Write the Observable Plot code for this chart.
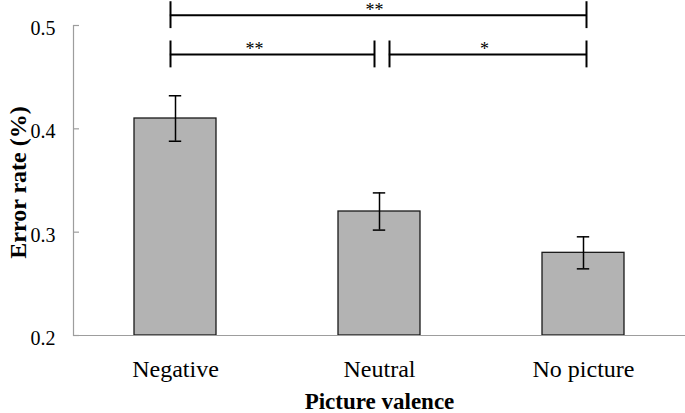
<!DOCTYPE html>
<html><head><meta charset="utf-8">
<script src="https://cdn.jsdelivr.net/npm/d3@7"></script>
<script src="https://cdn.jsdelivr.net/npm/@observablehq/plot@0.6"></script>
<style>html,body{margin:0;padding:0;background:#fff} svg{display:block}</style>
</head><body><div id="chart"></div>
<script>
const categories = ["Negative", "Neutral", "No picture"];
const errorRates = [0.41, 0.32, 0.28];
const errorSE = [0.022, 0.018, 0.0155];
const yTicks = [0.2, 0.3, 0.4, 0.5];
const bracketFrom = ["Negative", "Negative", "Neutral"];
const bracketTo = ["No picture", "Neutral", "No picture"];
const bracketLevel = [0.51, 0.472, 0.472];
const bracketLabels = ["**", "**", "*"];
const yTitle = "Error rate (%)";
const xTitle = "Picture valence";

const rows = categories.map((c, i) => ({
  category: c, rate: errorRates[i],
  lo: errorRates[i] - errorSE[i], hi: errorRates[i] + errorSE[i]
}));

const W = 685, H = 413, mL = 73, mR = 0, mT = 25, mB = 78;
const step = (W - mL - mR) / categories.length;
const bw = step * 0.4;
const capHalf = 0.013;
const axisGrey = "#9d9d9d";
const serif = "'Liberation Serif', 'Times New Roman', Times, serif";

function bracket(i, offFrom, offTo, labelAt, labelDx) {
  const d = [{from: bracketFrom[i], to: bracketTo[i], y: bracketLevel[i], label: bracketLabels[i], at: labelAt}];
  return [
    Plot.ruleY(d, {y: "y", x1: "from", x2: "to", insetLeft: bw / 2 + offFrom, insetRight: bw / 2 - offTo, stroke: "#000", strokeWidth: 2}),
    Plot.ruleX(d, {x: "from", y1: r => r.y - capHalf, y2: r => r.y + capHalf, dx: offFrom, stroke: "#000", strokeWidth: 2}),
    Plot.ruleX(d, {x: "to", y1: r => r.y - capHalf, y2: r => r.y + capHalf, dx: offTo, stroke: "#000", strokeWidth: 2}),
    Plot.text(d, {x: "at", y: "y", text: "label", dx: labelDx, dy: 1, lineAnchor: "bottom", fontSize: 18, fontFamily: serif, fill: "#000"})
  ];
}

const chart = Plot.plot({
  width: W, height: H,
  marginLeft: mL, marginRight: mR, marginTop: mT, marginBottom: mB,
  style: {fontFamily: serif, background: "#fff", color: "#000", overflow: "visible"},
  x: {domain: categories, paddingInner: 0.6, paddingOuter: 0.3, label: null},
  y: {domain: [0.2, 0.5], label: null},
  marks: [
    Plot.barY(rows, {x: "category", y1: 0.2, y2: "rate", fill: "#b3b3b3", stroke: "#1a1a1a", strokeWidth: 1.3}),
    Plot.ruleX(rows, {x: "category", y1: "lo", y2: "hi", stroke: "#000", strokeWidth: 1.5}),
    Plot.tickY(rows, {x: "category", y: "lo", insetLeft: bw / 2 - 6, insetRight: bw / 2 - 6, stroke: "#000", strokeWidth: 1.5}),
    Plot.tickY(rows, {x: "category", y: "hi", insetLeft: bw / 2 - 6, insetRight: bw / 2 - 6, stroke: "#000", strokeWidth: 1.5}),
    Plot.ruleY([0.2], {stroke: axisGrey, strokeWidth: 1.2}),
    Plot.ruleY(yTicks, {insetRight: W - mL - mR - 6, stroke: axisGrey, strokeWidth: 1.2}),
    Plot.frame({anchor: "left", stroke: axisGrey, strokeWidth: 1.2}),
    Plot.axisY({ticks: yTicks, tickSize: 0, tickPadding: 18, fontSize: 20, dy: 3, tickFormat: d3.format(".1f"), label: null, fill: "#000", fontFamily: serif}),
    Plot.axisX({tickSize: 0, tickPadding: 24, fontSize: 24, label: null, fill: "#000", fontFamily: serif}),
    ...bracket(0, -5, 3, "Neutral", -5),
    ...bracket(1, -5, -5, "Negative", 79),
    ...bracket(2, 10, 3, "No picture", -99),
    Plot.text([xTitle], {text: d => d, frameAnchor: "bottom", textAnchor: "middle", dy: 73, lineAnchor: "bottom", fontSize: 23, fontWeight: "bold", fontFamily: serif, fill: "#000"}),
    Plot.text([yTitle], {text: d => d, frameAnchor: "left", textAnchor: "middle", rotate: -90, dx: -48, dy: 2, lineAnchor: "bottom", fontSize: 24, fontWeight: "bold", fontFamily: serif, fill: "#000"})
  ]
});
document.getElementById("chart").appendChild(chart);
</script>
</body></html>
